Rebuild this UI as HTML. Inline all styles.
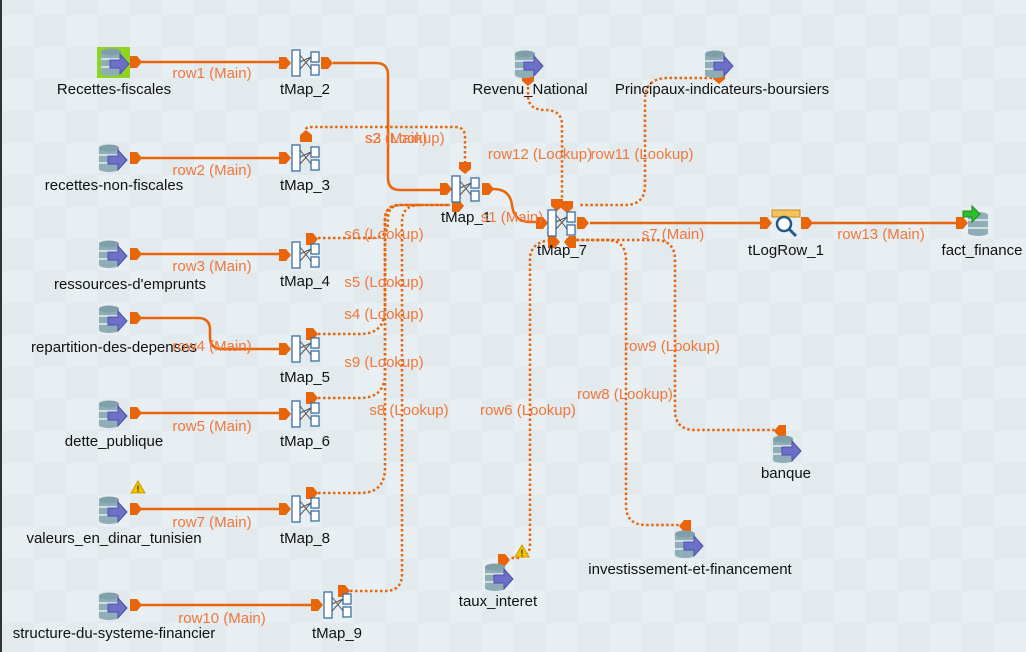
<!DOCTYPE html>
<html><head><meta charset="utf-8">
<style>
html,body{margin:0;padding:0;}
body{width:1026px;height:652px;overflow:hidden;font-family:"Liberation Sans",sans-serif;
background-color:#e8eff3;
background-image:conic-gradient(#e3eaee 25%,transparent 0 50%,#e3eaee 0 75%,transparent 0);
background-size:64px 64px;background-position:2px 15px;}
svg{position:absolute;left:0;top:0;}
.lbl{font-size:15px;fill:#111;text-anchor:middle;}
.ll{font-size:15px;fill:#f0773a;text-anchor:middle;}
.m{fill:none;stroke:#e8650a;stroke-width:2.5;}
.d{fill:none;stroke:#e8650a;stroke-width:2.5;stroke-dasharray:2.5 2.5;}
.c{fill:#e8650a;}
</style></head><body>
<svg width="1026" height="652" viewBox="0 0 1026 652">
<defs>
<g id="db">
<rect x="-13" y="-13" width="20" height="26" rx="10" ry="3" fill="#8fadb7"/>
<ellipse cx="-3" cy="-11" rx="10" ry="3.5" fill="#7f9fa9"/>
<line x1="-13" y1="-4" x2="7" y2="-4" stroke="#e6eef0" stroke-width="1.5"/>
<line x1="-13" y1="4" x2="7" y2="4" stroke="#e6eef0" stroke-width="1.5"/>
<polygon points="-4,-3 6,-3 6,-9 15,1 6,11 6,5 -4,5" fill="#6d70c9" stroke="#4d50a8" stroke-width="1"/>
</g>
<g id="tmap">
<rect x="-14" y="-13" width="8" height="26" fill="#fff" stroke="#3a6ea5" stroke-width="1.3"/>
<rect x="5" y="-11" width="8" height="10" fill="#fff" stroke="#3a6ea5" stroke-width="1.3"/>
<rect x="5" y="2" width="8" height="10" fill="#fff" stroke="#3a6ea5" stroke-width="1.3"/>
<path d="M-6,-8 L5,6 M-6,6 L5,-6 M-6,-1 L5,-6" stroke="#555" stroke-width="1" fill="none"/>
</g>
<polygon id="cr" points="-6,-6 1,-6 6,0 1,6 -6,6"/>
<polygon id="cd" points="-6,-6 6,-6 6,1 0,6 -6,1"/>
<polygon id="cu" points="-6,6 6,6 6,-1 0,-6 -6,-1"/>
<polygon id="cl" points="6,-6 -1,-6 -6,0 -1,6 6,6"/>
<g id="warn"><polygon points="0,-6 7,6 -7,6" fill="#f5c400" stroke="#c99a00" stroke-width="1"/><text x="0" y="5" font-size="9" font-weight="bold" text-anchor="middle" fill="#333">!</text></g>
</defs>

<rect x="0" y="0" width="2" height="652" fill="#333"/>

<g>
<path class="m" d="M140,62 H285"/>
<path class="m" d="M333,63 H376 Q388,63 388,75 V178 Q388,190 400,190 H445"/>
<path class="m" d="M140,158 H285"/>
<path class="m" d="M140,254 H285"/>
<path class="m" d="M140,318 H198 Q210,318 210,330 V337 Q210,349 222,349 H285"/>
<path class="m" d="M140,413 H285"/>
<path class="m" d="M140,509 H285"/>
<path class="m" d="M140,605 H317"/>
<path class="m" d="M493,189 Q510,189 512,205 Q514,222 530,222 H540"/>
<path class="m" d="M590,223 H765"/>
<path class="m" d="M812,223 H958"/>
</g>

<g>
<path class="d" d="M305,134 V132 Q305,127 311,127 H455 Q465,127 465,137 V168"/>
<path class="d" d="M318,238 H372 Q388,238 388,222 V218 Q388,205 402,205 H450"/>
<path class="d" d="M318,334 H360 Q385,334 385,309 V220 Q385,205 400,205 H450"/>
<path class="d" d="M318,398 H360 Q385,398 385,373 V220 Q385,205 400,205"/>
<path class="d" d="M318,493 H360 Q385,493 385,468 V220"/>
<path class="d" d="M350,591 H385 Q402,591 402,574 V222 Q402,205 420,205"/>
<path class="d" d="M528,82 V95 Q528,110 545,110 Q562,110 562,125 V200"/>
<path class="d" d="M712,78 H668 Q645,78 645,100 V185 Q645,205 625,205 H578"/>
<path class="d" d="M572,240 H655 Q675,240 675,260 V410 Q675,430 695,430 H775"/>
<path class="d" d="M566,240 H606 Q626,240 626,260 V505 Q626,525 646,525 H680"/>
<path class="d" d="M555,240 Q530,240 530,260 V545 Q530,556 518,558 H510"/>
</g>

<g class="c">
<use href="#cr" x="136" y="62"/><use href="#cr" x="285" y="63"/><use href="#cr" x="327" y="63"/>
<use href="#cr" x="136" y="158"/><use href="#cr" x="285" y="158"/><use href="#cu" x="306" y="136"/>
<use href="#cr" x="136" y="254"/><use href="#cr" x="285" y="255"/><use href="#cr" x="312" y="239"/>
<use href="#cr" x="136" y="318"/><use href="#cr" x="285" y="349"/><use href="#cr" x="312" y="334"/>
<use href="#cr" x="136" y="413"/><use href="#cr" x="285" y="414"/><use href="#cr" x="312" y="398"/>
<use href="#cr" x="136" y="509"/><use href="#cr" x="285" y="509"/><use href="#cr" x="312" y="493"/>
<use href="#cr" x="136" y="605"/><use href="#cr" x="317" y="605"/><use href="#cr" x="344" y="591"/>
<use href="#cr" x="446" y="189"/><use href="#cr" x="488" y="189"/><use href="#cd" x="465" y="168"/><use href="#cr" x="458" y="206"/>
<use href="#cr" x="542" y="223"/><use href="#cr" x="583" y="223"/><use href="#cd" x="557" y="205"/><use href="#cd" x="567" y="207"/>
<use href="#cr" x="554" y="242"/><use href="#cl" x="570" y="242"/>
<use href="#cr" x="766" y="223"/><use href="#cr" x="807" y="223"/><use href="#cr" x="962" y="223"/>
<use href="#cd" x="528" y="80"/><use href="#cd" x="719" y="78"/>
<use href="#cl" x="780" y="431"/><use href="#cl" x="685" y="526"/><use href="#cr" x="504" y="560"/>
</g>

<rect x="97" y="47" width="33" height="31" fill="#8fd324"/>
<use href="#db" x="114" y="63"/>
<use href="#db" x="112" y="159"/>
<use href="#db" x="112" y="255"/>
<use href="#db" x="112" y="320"/>
<use href="#db" x="112" y="415"/>
<use href="#db" x="112" y="511"/>
<use href="#db" x="112" y="607"/>
<use href="#db" x="528" y="65"/>
<use href="#db" x="718" y="65"/>
<use href="#db" x="786" y="450"/>
<use href="#db" x="688" y="545"/>
<use href="#db" x="498" y="578"/>
<use href="#warn" x="138" y="487"/>
<use href="#warn" x="522" y="551"/>

<use href="#tmap" x="306" y="63"/>
<use href="#tmap" x="306" y="158"/>
<use href="#tmap" x="306" y="255"/>
<use href="#tmap" x="306" y="349"/>
<use href="#tmap" x="306" y="414"/>
<use href="#tmap" x="306" y="509"/>
<use href="#tmap" x="338" y="605"/>
<use href="#tmap" x="466" y="189"/>
<use href="#tmap" x="562" y="223"/>

<g>
<rect x="772" y="210" width="28" height="7" fill="#f5c35a" stroke="#c98a1a"/>
<circle cx="784" cy="224" r="7" fill="#fff" stroke="#245a8a" stroke-width="2.5"/>
<line x1="789" y1="229" x2="796" y2="236" stroke="#245a8a" stroke-width="3"/>
</g>
<g>
<rect x="968" y="212" width="20" height="24" rx="10" ry="3" fill="#8fadb7"/>
<line x1="968" y1="220" x2="988" y2="220" stroke="#e6eef0" stroke-width="1.5"/>
<line x1="968" y1="228" x2="988" y2="228" stroke="#e6eef0" stroke-width="1.5"/>
<polygon points="963,211 972,211 972,206 980,214 972,222 972,217 963,217" fill="#2cc12c" stroke="#1a8a1a"/>
</g>

<g>
<text class="lbl" x="114" y="94">Recettes-fiscales</text>
<text class="lbl" x="114" y="190">recettes-non-fiscales</text>
<text class="lbl" x="130" y="289">ressources-d'emprunts</text>
<text class="lbl" x="114" y="352">repartition-des-depenses</text>
<text class="lbl" x="114" y="446">dette_publique</text>
<text class="lbl" x="114" y="543">valeurs_en_dinar_tunisien</text>
<text class="lbl" x="114" y="638">structure-du-systeme-financier</text>
<text class="lbl" x="305" y="94">tMap_2</text>
<text class="lbl" x="305" y="190">tMap_3</text>
<text class="lbl" x="305" y="286">tMap_4</text>
<text class="lbl" x="305" y="382">tMap_5</text>
<text class="lbl" x="305" y="446">tMap_6</text>
<text class="lbl" x="305" y="543">tMap_8</text>
<text class="lbl" x="337" y="638">tMap_9</text>
<text class="lbl" x="466" y="222">tMap_1</text>
<text class="lbl" x="562" y="255">tMap_7</text>
<text class="lbl" x="786" y="255">tLogRow_1</text>
<text class="lbl" x="982" y="255">fact_finance</text>
<text class="lbl" x="530" y="94">Revenu_National</text>
<text class="lbl" x="722" y="94">Principaux-indicateurs-boursiers</text>
<text class="lbl" x="786" y="478">banque</text>
<text class="lbl" x="690" y="574">investissement-et-financement</text>
<text class="lbl" x="498" y="606">taux_interet</text>
</g>

<g>
<text class="ll" x="212" y="78">row1 (Main)</text>
<text class="ll" x="212" y="175">row2 (Main)</text>
<text class="ll" x="212" y="271">row3 (Main)</text>
<text class="ll" x="212" y="351">row4 (Main)</text>
<text class="ll" x="212" y="431">row5 (Main)</text>
<text class="ll" x="212" y="527">row7 (Main)</text>
<text class="ll" x="222" y="623">row10 (Main)</text>
<text class="ll" x="405" y="143">s3 (Lookup)</text>
<text class="ll" x="396" y="143">s2 (Main)</text>
<text class="ll" x="512" y="222">s1 (Main)</text>
<text class="ll" x="673" y="239">s7 (Main)</text>
<text class="ll" x="881" y="239">row13 (Main)</text>
<text class="ll" x="540" y="159">row12 (Lookup)</text>
<text class="ll" x="642" y="159">row11 (Lookup)</text>
<text class="ll" x="384" y="239">s6 (Lookup)</text>
<text class="ll" x="384" y="287">s5 (Lookup)</text>
<text class="ll" x="384" y="319">s4 (Lookup)</text>
<text class="ll" x="384" y="367">s9 (Lookup)</text>
<text class="ll" x="409" y="415">s8 (Lookup)</text>
<text class="ll" x="672" y="351">row9 (Lookup)</text>
<text class="ll" x="625" y="399">row8 (Lookup)</text>
<text class="ll" x="528" y="415">row6 (Lookup)</text>
</g>
</svg>
</body></html>
